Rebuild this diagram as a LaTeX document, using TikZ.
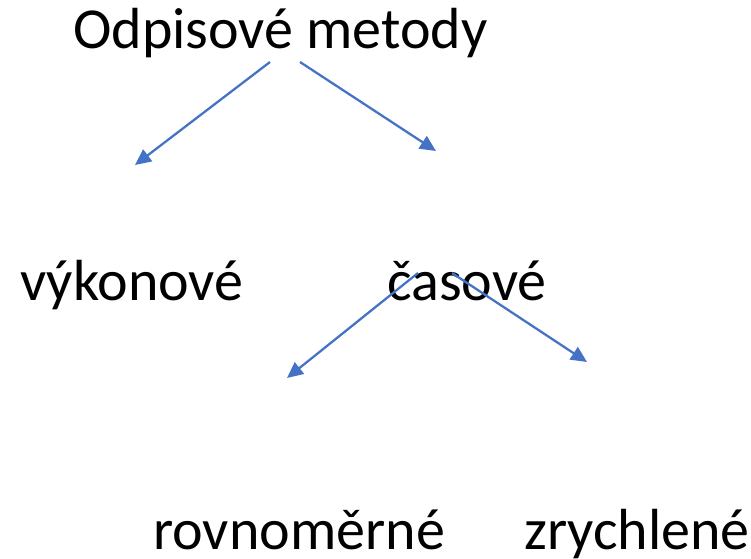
\documentclass[tikz,border=0pt]{standalone}
\usepackage{fontspec}
\setmainfont{Carlito}
\usetikzlibrary{arrows.meta}
\definecolor{accentblue}{HTML}{4472C4}
\begin{document}
\begin{tikzpicture}[x=0.75pt,y=-0.75pt,
  label/.style={inner sep=0pt, anchor=base west, font=\fontsize{43.5}{52}\selectfont},
  link/.style={draw=accentblue, line width=1.7pt,
    -{Triangle[length=12pt,width=11pt]}}]
  \useasboundingbox (0,0) rectangle (751,558);
  % labels of the tree
  \node[label] (root) at (73,48) {Odpisové metody};
  \node[label] (perf) at (20,300) {výkonové};
  \node[label] (time) at (387,300) {časové};
  \node[label] (lin)  at (153,549) {rovnoměrné};
  \node[label] (acc)  at (524,549) {zrychlené};
  % arrow ends
  \coordinate (r1) at (270,62);
  \coordinate (r2) at (300,62);
  \coordinate (p1) at (135,165);
  \coordinate (t1) at (436,151);
  \coordinate (t2) at (418,273);
  \coordinate (t3) at (452,273);
  \coordinate (l1) at (287,378);
  \coordinate (a1) at (587,362);
  \draw[link] (r1) -- (p1);
  \draw[link] (r2) -- (t1);
  \draw[link] (t2) -- (l1);
  \draw[link] (t3) -- (a1);
\end{tikzpicture}
\end{document}
